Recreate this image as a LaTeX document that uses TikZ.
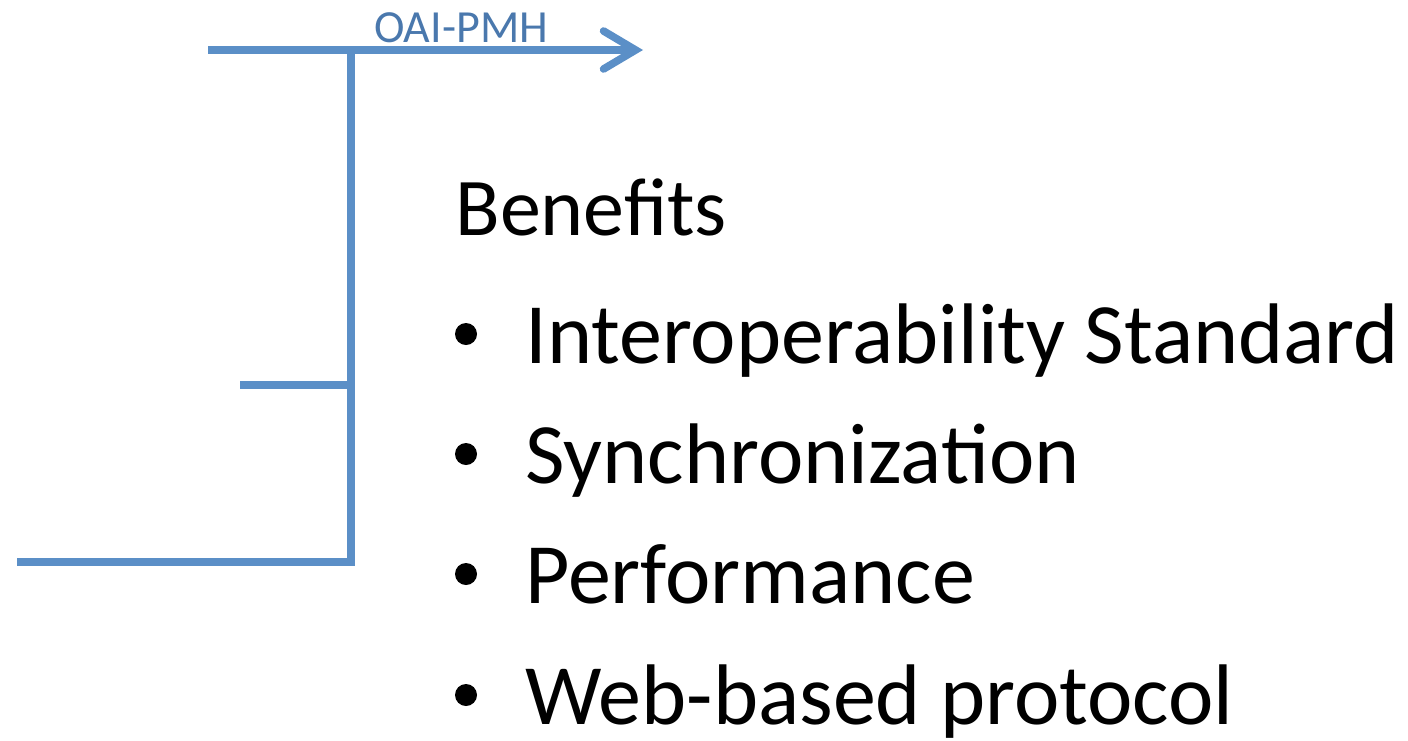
\documentclass[tikz,border=0pt]{standalone}
\usepackage{fontspec}
\setmainfont{Carlito}
\usetikzlibrary{arrows.meta, positioning}
\definecolor{LineBlue}{HTML}{5B8FC7}
\definecolor{LabelBlue}{HTML}{4A78AD}
\tikzset{
  % Connector styles
  wire/.style={line width=3.8pt, LineBlue},
  arrow/.style={wire, -{Straight Barb[length=16pt, width=19pt, line cap=round]}},
  % Text styles
  headtext/.style={anchor=base west, inner sep=0pt, font=\fontsize{41}{48}\selectfont},
  itemtext/.style={anchor=base west, inner sep=0pt, font=\fontsize{43}{52}\selectfont},
  labeltext/.style={anchor=base, inner sep=0pt, text=LabelBlue, font=\fontsize{23}{28}\selectfont},
  bulletdot/.style={circle, fill=black, inner sep=0pt, minimum size=11pt}
}
\begin{document}
\begin{tikzpicture}[x=0.5pt, y=-0.5pt]
  \useasboundingbox (0,0) rectangle (1408,740);

  % Connector points
  \coordinate (srcA) at (208,50);
  \coordinate (hubA) at (351,50);
  \coordinate (tip)  at (643,50);
  \coordinate (srcB) at (240,385);
  \coordinate (hubB) at (351,385);
  \coordinate (srcC) at (17,562);
  \coordinate (hubC) at (351,562);

  % Connectors
  \draw[wire] (srcC) -- (hubC) -- (hubA);
  \draw[wire] (srcB) -- (hubB);
  \draw[arrow] (srcA) -- (tip);
  \node[labeltext] (oai) at (461,42) {OAI-PMH};

  % Benefits list
  \node[headtext] (benefits) at (455,235) {Benefits};
  \foreach \y/\name/\txt in {363/std/Interoperability Standard, 483/sync/Synchronization,
                             603/perf/Performance, 724/web/Web-based protocol} {
    \node[itemtext] (\name) at (525,\y) {\txt};
    \node[bulletdot] (\name-dot) at (466,\y-29) {};
  }
\end{tikzpicture}
\end{document}
